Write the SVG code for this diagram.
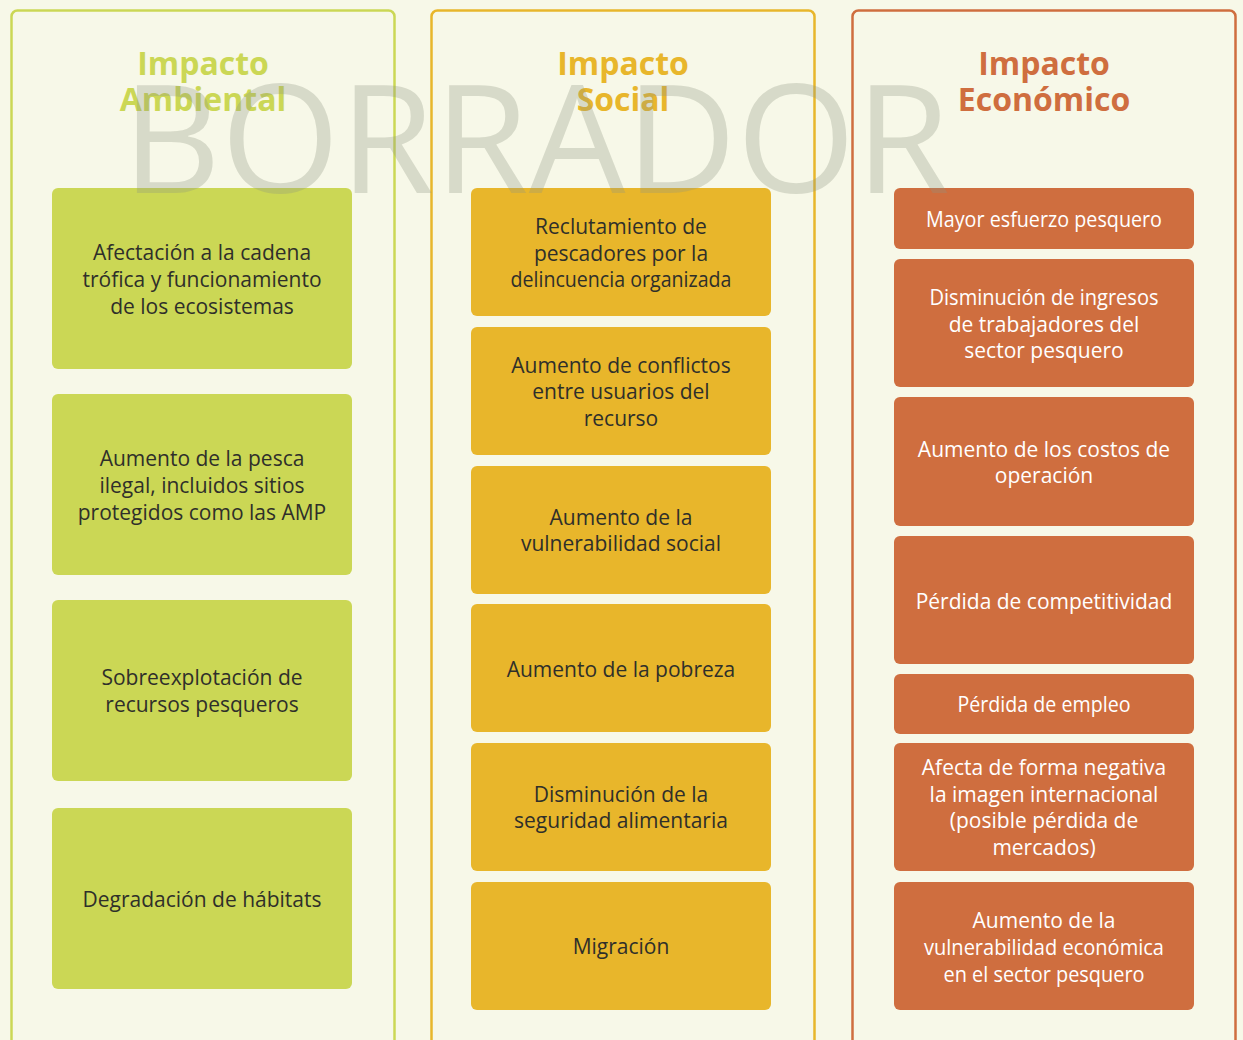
<svg xmlns="http://www.w3.org/2000/svg" width="1243" height="1040" viewBox="0 0 1243 1040">
<style>
.bg{fill:#f7f8e8}
.frame{fill:none;stroke-width:2.5}
.t{font-family:"Open Sans","Noto Sans","Liberation Sans",sans-serif;font-size:21px;text-anchor:middle}
.h{font-family:"Open Sans","Noto Sans","Liberation Sans",sans-serif;font-size:32px;font-weight:bold;text-anchor:middle}
.g{fill:#cbd755}.y{fill:#e8b62b}.o{fill:#cf6e3f}
.dk{fill:#2f2f2a}.wh{fill:#ffffff}
.wm{font-family:"Open Sans","Noto Sans","Liberation Sans",sans-serif;font-size:150px;fill:#8f9480;fill-opacity:0.3}
</style>
<rect class="bg" x="0" y="0" width="1243" height="1040"/>
<g id="col-ambiental">
<rect class="frame" x="11.5" y="10.5" width="383" height="1060" rx="6" stroke="#cbd755"/>
<text class="h g" x="203" y="75">Impacto</text>
<text class="h g" x="203" y="111">Ambiental</text>
</g>
<g id="col-social">
<rect class="frame" x="431.5" y="10.5" width="383" height="1060" rx="6" stroke="#e8b62b"/>
<text class="h y" x="623" y="75">Impacto</text>
<text class="h y" x="623" y="111">Social</text>
</g>
<g id="col-economico">
<rect class="frame" x="852.5" y="10.5" width="383" height="1060" rx="6" stroke="#cf6e3f"/>
<text class="h o" x="1044" y="75">Impacto</text>
<text class="h o" x="1044" y="111">Económico</text>
</g>
<g id="a1"><rect class="g" x="52" y="188" width="300" height="181" rx="6"/><text class="t dk"><tspan x="202" y="260">Afectación a la cadena</tspan><tspan x="202" y="287">trófica y funcionamiento</tspan><tspan x="202" y="314">de los ecosistemas</tspan></text></g>
<g id="a2"><rect class="g" x="52" y="394" width="300" height="181" rx="6"/><text class="t dk"><tspan x="202" y="466">Aumento de la pesca</tspan><tspan x="202" y="493">ilegal, incluidos sitios</tspan><tspan x="202" y="520">protegidos como las AMP</tspan></text></g>
<g id="a3"><rect class="g" x="52" y="600" width="300" height="181" rx="6"/><text class="t dk"><tspan x="202" y="685">Sobreexplotación de</tspan><tspan x="202" y="712">recursos pesqueros</tspan></text></g>
<g id="a4"><rect class="g" x="52" y="808" width="300" height="181" rx="6"/><text class="t dk"><tspan x="202" y="907">Degradación de hábitats</tspan></text></g>
<g id="s1"><rect class="y" x="471" y="188" width="300" height="128" rx="6"/><text class="t dk"><tspan x="621" y="234">Reclutamiento de</tspan><tspan x="621" y="261">pescadores por la</tspan><tspan x="621" y="287" textLength="221" lengthAdjust="spacingAndGlyphs">delincuencia organizada</tspan></text></g>
<g id="s2"><rect class="y" x="471" y="327" width="300" height="128" rx="6"/><text class="t dk"><tspan x="621" y="373">Aumento de conflictos</tspan><tspan x="621" y="399">entre usuarios del</tspan><tspan x="621" y="426">recurso</tspan></text></g>
<g id="s3"><rect class="y" x="471" y="466" width="300" height="128" rx="6"/><text class="t dk"><tspan x="621" y="525">Aumento de la</tspan><tspan x="621" y="551">vulnerabilidad social</tspan></text></g>
<g id="s4"><rect class="y" x="471" y="604" width="300" height="128" rx="6"/><text class="t dk"><tspan x="621" y="677">Aumento de la pobreza</tspan></text></g>
<g id="s5"><rect class="y" x="471" y="743" width="300" height="128" rx="6"/><text class="t dk"><tspan x="621" y="802">Disminución de la</tspan><tspan x="621" y="828">seguridad alimentaria</tspan></text></g>
<g id="s6"><rect class="y" x="471" y="882" width="300" height="128" rx="6"/><text class="t dk"><tspan x="621" y="954">Migración</tspan></text></g>
<g id="e1"><rect class="o" x="894" y="188" width="300" height="61" rx="6"/><text class="t wh"><tspan x="1044" y="227" textLength="236" lengthAdjust="spacingAndGlyphs">Mayor esfuerzo pesquero</tspan></text></g>
<g id="e2"><rect class="o" x="894" y="259" width="300" height="128" rx="6"/><text class="t wh"><tspan x="1044" y="305" textLength="229" lengthAdjust="spacingAndGlyphs">Disminución de ingresos</tspan><tspan x="1044" y="332">de trabajadores del</tspan><tspan x="1044" y="358">sector pesquero</tspan></text></g>
<g id="e3"><rect class="o" x="894" y="397" width="300" height="129" rx="6"/><text class="t wh"><tspan x="1044" y="457">Aumento de los costos de</tspan><tspan x="1044" y="483">operación</tspan></text></g>
<g id="e4"><rect class="o" x="894" y="536" width="300" height="128" rx="6"/><text class="t wh"><tspan x="1044" y="609">Pérdida de competitividad</tspan></text></g>
<g id="e5"><rect class="o" x="894" y="674" width="300" height="60" rx="6"/><text class="t wh"><tspan x="1044" y="712" textLength="173" lengthAdjust="spacingAndGlyphs">Pérdida de empleo</tspan></text></g>
<g id="e6"><rect class="o" x="894" y="743" width="300" height="128" rx="6"/><text class="t wh"><tspan x="1044" y="775">Afecta de forma negativa</tspan><tspan x="1044" y="802">la imagen internacional</tspan><tspan x="1044" y="828">(posible pérdida de</tspan><tspan x="1044" y="855">mercados)</tspan></text></g>
<g id="e7"><rect class="o" x="894" y="882" width="300" height="128" rx="6"/><text class="t wh"><tspan x="1044" y="928">Aumento de la</tspan><tspan x="1044" y="955" textLength="240" lengthAdjust="spacingAndGlyphs">vulnerabilidad económica</tspan><tspan x="1044" y="982" textLength="201" lengthAdjust="spacingAndGlyphs">en el sector pesquero</tspan></text></g>
<g id="connectors"/>
<text class="wm" x="122" y="193" textLength="828" lengthAdjust="spacingAndGlyphs">BORRADOR</text>
</svg>
